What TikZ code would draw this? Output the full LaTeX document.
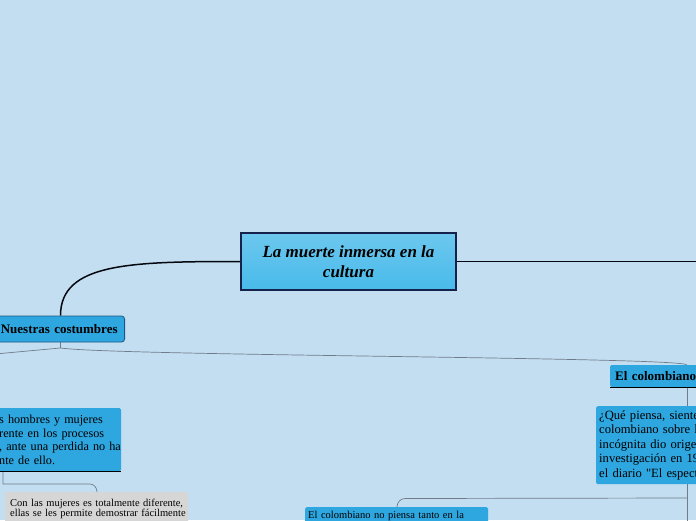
\documentclass[tikz,border=0pt]{standalone}
\usepackage{fontspec}
\setmainfont{Liberation Serif}[Ligatures=TeXOff]
\definecolor{backdrop}{RGB}{195, 222, 240}
\definecolor{topicblue}{RGB}{72, 186, 234}
\definecolor{branchblue}{RGB}{46, 166, 223}
\definecolor{frame}{RGB}{20, 34, 76}
\definecolor{wiregray}{RGB}{112, 124, 138}
\definecolor{notegray}{RGB}{214, 214, 214}
\usetikzlibrary{positioning, calc, backgrounds}

\begin{document}
\begin{tikzpicture}[x=1pt, y=-1pt,
        every node/.style={font=\fontsize{12.6}{13.8}\selectfont, align=left, inner sep=0pt},
        topic/.style={draw=frame, line width=1.5pt, top color=topicblue!80!white, bottom color=topicblue,
            minimum width=215pt, minimum height=57pt, align=center,
            font=\fontsize{17}{20}\selectfont\bfseries\itshape},
        branch/.style={draw=frame!60!branchblue, line width=0.8pt, fill=branchblue, rounded corners=3pt,
            font=\fontsize{13}{14}\selectfont\bfseries},
        leaf/.style={fill=branchblue, rounded corners=1.5pt, inner xsep=3pt, inner ysep=4pt},
        memo/.style={fill=notegray, rounded corners=2pt, font=\fontsize{10.5}{10.5}\selectfont, inner xsep=5pt, inner ysep=6.5pt},
        trunk/.style={line width=1.5pt, black!80!frame},
        wire/.style={line width=0.7pt, wiregray},
        underbar/.style={line width=1.2pt, black}
    ]
        \useasboundingbox (0,0) rectangle (696,520);
        \clip (0,0) rectangle (696,520);
        \begin{scope}[on background layer]
            \fill[backdrop] (0,0) rectangle (696,520);
        \end{scope}

        % Tema central
        \node[topic] (root) at (348.5,261.5) {La muerte inmersa en la\\cultura};

        % Rama izquierda
        \node[branch, minimum height=26pt, text width=125pt, align=right, inner xsep=7pt, anchor=east] (nue) at (125,329) {Nuestras costumbres};
        \node[leaf, anchor=north west, text width=119pt, minimum height=63pt,
            font=\fontsize{12.2}{13.7}\selectfont] (men) at (-4,408)
            {\mbox{s hombres y mujeres}\\\mbox{rente en los procesos}\\\mbox{, ante una perdida no ha}\\\mbox{nte de ello.}};
        \node[memo, anchor=north west, text width=173pt, text depth=20pt] (wom) at (5,492)
            {\mbox{Con las mujeres es totalmente diferente,}\\\mbox{ellas se les permite demostrar fácilmente}};

        % Rama derecha
        \node[leaf, anchor=west, text width=95pt, minimum height=22pt, inner xsep=5pt,
            font=\fontsize{13}{14}\selectfont\bfseries] (col) at (610,376) {El colombiano};
        \node[leaf, anchor=north west, text width=110pt, minimum height=78pt,
            font=\fontsize{12.6}{14.5}\selectfont] (ask) at (596,406)
            {¿Qué piensa, siente\\colombiano sobre l\\incógnita dio origen\\investigación en 19\\el diario "El especta};
        \node[leaf, anchor=north west, text width=177pt, inner ysep=4.5pt, text depth=15pt,
            font=\fontsize{10.5}{11}\selectfont] (sin) at (305,507) {El colombiano no piensa tanto en la};

        \draw[underbar] (col.south west) -- (col.south east);
        \draw[underbar] (men.south west) -- (men.south east);

        % Puntos de union
        \coordinate (rightend) at (700,261.5);
        \coordinate (nuefork) at (60.5,348);
        \coordinate (leftend) at (-5,354);
        \coordinate (colin) at (687,365);
        \coordinate (askout) at (687,498);
        \coordinate (downend) at (687,525);
        \coordinate (sinin) at (397,507);
        \coordinate (menfork) at (3,484);
        \coordinate (womin) at (97,492);

        \begin{scope}[on background layer]
            \draw[trunk] (root.west) .. controls (130,261.5) and (60.5,263) .. (nuefork |- nue.north);
            \draw[trunk] (root.east) -- (rightend);
            \draw[wire] (nuefork |- nue.south) -- (nuefork);
            \draw[wire] (nuefork) -- (leftend);
            \draw[wire] (nuefork) .. controls (120,356) and (687,357) .. (colin);
            \draw[wire] (col.south -| colin) -- (ask.north -| colin);
            \draw[wire] (ask.south -| colin) -- (downend);
            \draw[wire] (askout) -- (405,498.5) to[out=180, in=90] (sinin);
            \draw[wire] (men.south -| menfork) -- (menfork) -- (90,484) to[out=0, in=90] (womin);
        \end{scope}
    \end{tikzpicture}
\end{document}
